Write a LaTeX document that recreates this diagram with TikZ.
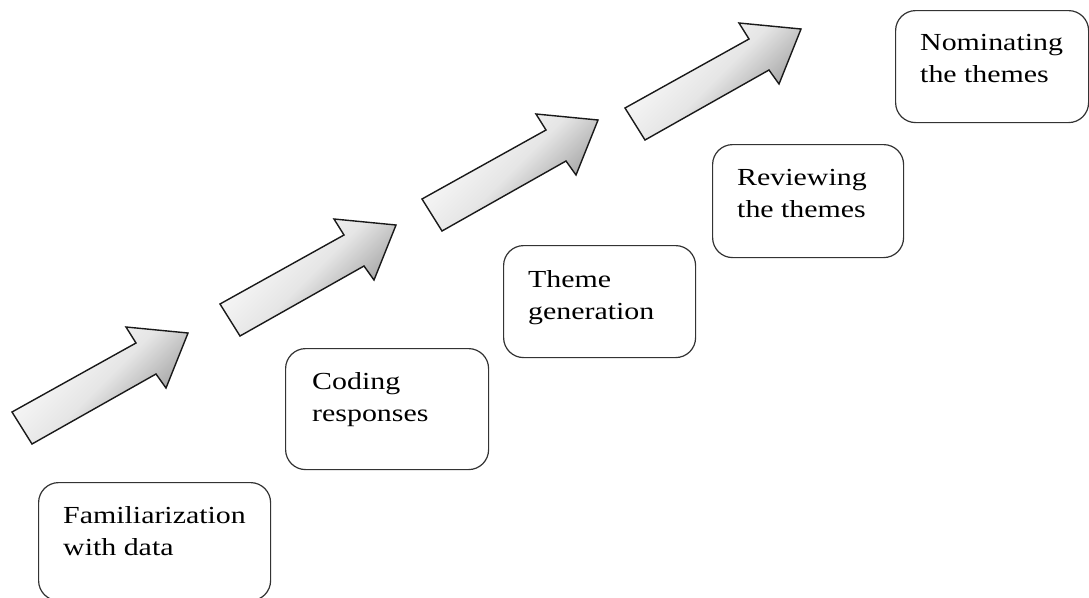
\documentclass[tikz,border=0pt]{standalone}
\usepackage{fontspec}
\setmainfont{Liberation Serif}[FakeStretch=1.22]
\begin{document}
\begin{tikzpicture}[x=1pt,y=-1pt,
  box/.style={draw=black!80, line width=1.2pt, rounded corners=20pt, anchor=north west, inner sep=0pt},
  lbl/.style={anchor=base west, inner sep=0pt, align=left, font=\fontsize{24.5}{32}\selectfont},
  arr/.style={draw=black!90, line width=1.4pt, line join=miter, top color=white, bottom color=black!45, middle color=black!10, shading angle=45}]
\useasboundingbox (0,0) rectangle (1089,597);
\fill[white] (0,0) rectangle (1089,597);
% arrows
\foreach \ax/\ay in {12/412, 220/304, 422/199, 625/108}
  \shadedraw[arr, shift={(\ax,\ay)}] (0,0) -- (124,-69) -- (114,-85) -- (176,-79) -- (154,-24) -- (144,-38) -- (20,32) -- cycle;
% boxes
\node[box, minimum width=232pt, minimum height=118pt] (b1) at (38,482) {};
\node[box, minimum width=203pt, minimum height=121pt] (b2) at (285,348) {};
\node[box, minimum width=192pt, minimum height=112pt] (b3) at (503,245) {};
\node[box, minimum width=191pt, minimum height=113pt] (b4) at (712,144) {};
\node[box, minimum width=193pt, minimum height=112pt] (b5) at (895,10) {};
% labels (anchored at the baseline of the second line)
\node[lbl] (t1) at (63,555) {Familiarization\\with data};
\node[lbl] (t2) at (312,421) {Coding\\responses};
\node[lbl] (t3) at (528,319) {Theme\\generation};
\node[lbl] (t4) at (737,217) {Reviewing\\the themes};
\node[lbl] (t5) at (920,82) {Nominating\\the themes};
\end{tikzpicture}
\end{document}
